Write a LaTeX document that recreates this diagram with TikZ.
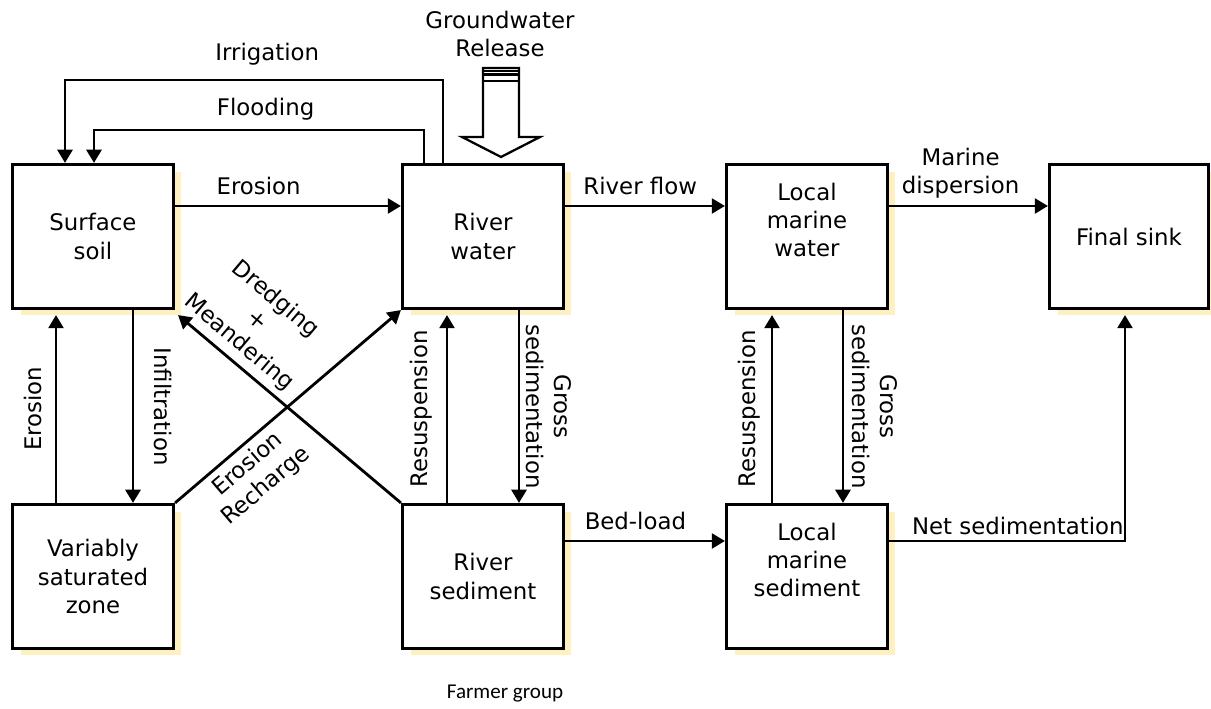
\documentclass[tikz,border=0pt]{standalone}
\usepackage{fontspec}
\setmainfont{DejaVu Sans}
\newfontfamily\farmerfont{Carlito}
\usetikzlibrary{arrows.meta,calc,shadows}
\definecolor{shadowyellow}{HTML}{FFF0C2}

\begin{document}
\begin{tikzpicture}
    [x=0.02cm, y=0.02cm,
    font=\fontsize{13}{16}\selectfont,
    compartment/.style={draw, line width=1.8pt, fill=white, align=center,
      minimum width=3.22cm, minimum height=2.88cm, inner sep=0pt,
      drop shadow={shadow xshift=0.16cm, shadow yshift=-0.14cm, fill=shadowyellow, opacity=1}},
    flow/.style={line width=1.6pt, -{Triangle[length=7.5pt,width=8.5pt]}},
    uplabel/.style={anchor=south, rotate=90},
    downlabel/.style={anchor=south, rotate=-90, align=center}]
    \useasboundingbox (0,0) rectangle (1211,709);

    \node[compartment] (soil) at (93,472.5) {Surface\\soil};
    \node[compartment] (rwater) at (483,472.5) {River\\water};
    \node[compartment, text depth=19pt] (mwater) at (807,472.5) {Local\\marine\\water};
    \node[compartment, minimum width=3.18cm] (sink) at (1129,472.5) {Final sink};
    \node[compartment] (vzone) at (93,132.5) {Variably\\saturated\\zone};
    \node[compartment] (rsed) at (483,132.5) {River\\sediment};
    \node[compartment, text depth=19pt] (msed) at (807,132.5) {Local\\marine\\sediment};

    % irrigation and flooding back onto the soil
    \coordinate (irrigR) at (443,629);
    \coordinate (irrigL) at (65,629);
    \coordinate (floodR) at (424,579);
    \coordinate (floodL) at (94,579);
    \draw[flow] (rwater.north -| irrigR) -- (irrigR)
      -- node[pos=0.465, above=4.5pt] {Irrigation} (irrigL) -- (irrigL |- soil.north);
    \draw[flow] (rwater.north -| floodR) -- (floodR)
      -- node[pos=0.48, above=1.5pt] {Flooding} (floodL) -- (floodL |- soil.north);

    % groundwater release
    \node (gwlabel) at (500,675) [align=center] {Groundwater\\Release};
    \draw[line width=1.3pt, fill=white] (483,641) -- (483,572) -- (462,572) -- (501,552)
      -- (540,572) -- (519,572) -- (519,641) -- cycle;
    \foreach \y in {638,634.5,628}
      \draw[line width=1.3pt] (483,\y) -- (519,\y);

    % top row
    \draw[flow] ($(soil.east)+(0,30.5)$) -- node[pos=0.37, above=2.5pt] {Erosion} ($(rwater.west)+(0,30.5)$);
    \draw[flow] ($(rwater.east)+(0,30.5)$) -- node[pos=0.47, above=2pt] {River flow} ($(mwater.west)+(0,30.5)$);
    \draw[flow] ($(mwater.east)+(0,30.5)$) -- node[pos=0.45, above, align=center] {Marine\\dispersion} ($(sink.west)+(0,30.5)$);

    % soil and saturated zone
    \draw[flow] (vzone.north -| 56,0) -- node[midway, uplabel, inner sep=7pt] {Erosion} ($(soil.south -| 56,0)+(0,-5)$);
    \draw[flow] (soil.south -| 133,0) -- node[midway, downlabel, inner sep=11.2pt] {Infiltration} (vzone.north -| 133,0);

    % crossing fluxes
    \draw[flow] (vzone.north east) -- node[pos=0.27, sloped, below, align=center] {Erosion\\Recharge} (rwater.south west);
    \draw[flow] (rsed.north west) -- node[pos=0.78, sloped, above, align=center] {Dredging\\+\\Meandering} ($(soil.south east)+(3,-5)$);

    % river water and sediment
    \draw[flow] (rsed.north -| 447,0) -- node[midway, uplabel, inner sep=7.8pt] {Resuspension} ($(rwater.south -| 447,0)+(0,-5)$);
    \draw[flow] (rwater.south -| 519,0) -- node[midway, downlabel] {Gross\\sedimentation} (rsed.north -| 519,0);

    % marine water and sediment
    \draw[flow] (msed.north -| 772,0) -- node[midway, uplabel, inner sep=6pt] {Resuspension} ($(mwater.south -| 772,0)+(0,-5)$);
    \draw[flow] (mwater.south -| 843,0) -- node[midway, downlabel, inner sep=4.4pt] {Gross\\sedimentation} (msed.north -| 843,0);

    % bottom row
    \draw[flow] ($(rsed.east)+(0,35.5)$) -- node[pos=0.44, above=2pt] {Bed-load} ($(msed.west)+(0,35.5)$);
    \draw[flow] ($(msed.east)+(0,35.5)$) -| node[pos=0.273, above=-0.5pt] {Net sedimentation} ($(sink.south)+(-4,-5)$);

    \node[anchor=base, font=\farmerfont\fontsize{12}{14}\selectfont] (farmer) at (505,10) {Farmer group};
\end{tikzpicture}
\end{document}
